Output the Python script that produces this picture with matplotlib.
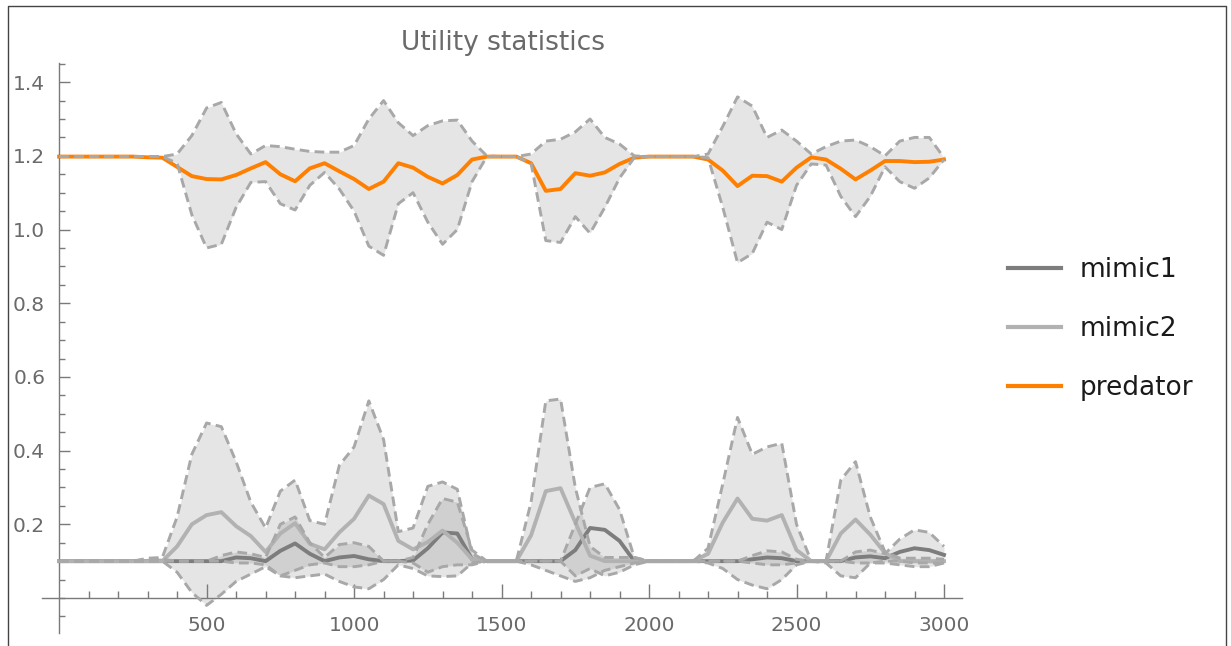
#!/usr/bin/env python3
# -*- coding: utf-8 -*-
"""
Utility statistics: mean and band of each population over time
"""

import numpy as np
import matplotlib.pyplot as plt
from matplotlib.lines import Line2D
from matplotlib.ticker import FixedLocator

plt.rcParams['font.family'] = ['DejaVu Sans']
plt.rcParams['lines.scale_dashes'] = False

# sampling grid (time steps)
steps = np.arange(0, 3001, 50)

predator_mean = [1.198, 1.198, 1.198, 1.198, 1.198, 1.198, 1.196, 1.195,
                 1.17, 1.145, 1.137, 1.136, 1.148, 1.166, 1.183, 1.15, 1.131, 1.166, 1.18, 1.158,
                 1.137, 1.11, 1.13, 1.18, 1.168, 1.143, 1.125, 1.148, 1.19, 1.198,
                 1.198, 1.198, 1.18, 1.105, 1.11, 1.153, 1.146, 1.155, 1.178, 1.195,
                 1.198, 1.198, 1.198, 1.198, 1.19, 1.16, 1.118, 1.146, 1.145, 1.13,
                 1.168, 1.196, 1.19, 1.165, 1.136, 1.16, 1.186, 1.186, 1.183, 1.184, 1.19]
predator_upper = [1.198, 1.198, 1.198, 1.198, 1.198, 1.198, 1.198, 1.198,
                  1.205, 1.255, 1.33, 1.345, 1.26, 1.205, 1.228, 1.225, 1.218, 1.212, 1.21, 1.21,
                  1.228, 1.3, 1.35, 1.29, 1.255, 1.282, 1.295, 1.297, 1.24, 1.2,
                  1.198, 1.198, 1.205, 1.24, 1.245, 1.265, 1.3, 1.25, 1.232, 1.2,
                  1.198, 1.198, 1.198, 1.198, 1.205, 1.28, 1.36, 1.335, 1.25, 1.27,
                  1.24, 1.205, 1.225, 1.24, 1.243, 1.225, 1.2, 1.24, 1.25, 1.25, 1.195]
predator_lower = [1.198, 1.198, 1.198, 1.198, 1.198, 1.198, 1.198, 1.198,
                  1.18, 1.04, 0.95, 0.96, 1.06, 1.128, 1.13, 1.07, 1.053, 1.12, 1.155, 1.11,
                  1.05, 0.955, 0.93, 1.07, 1.1, 1.02, 0.96, 1.0, 1.13, 1.198,
                  1.198, 1.198, 1.18, 0.97, 0.965, 1.035, 0.99, 1.06, 1.14, 1.195,
                  1.198, 1.198, 1.198, 1.198, 1.195, 1.06, 0.91, 0.935, 1.02, 1.0,
                  1.12, 1.178, 1.175, 1.09, 1.035, 1.09, 1.17, 1.13, 1.112, 1.14, 1.19]

mimic2_mean = [0.1, 0.1, 0.1, 0.1, 0.1, 0.1, 0.1, 0.1,
               0.14, 0.2, 0.225, 0.233, 0.195, 0.168, 0.125, 0.175, 0.203, 0.147, 0.132, 0.178,
               0.215, 0.278, 0.255, 0.155, 0.132, 0.152, 0.183, 0.15, 0.105, 0.1,
               0.1, 0.1, 0.17, 0.29, 0.298, 0.205, 0.115, 0.1, 0.1, 0.1,
               0.1, 0.1, 0.1, 0.1, 0.12, 0.205, 0.27, 0.215, 0.21, 0.225,
               0.13, 0.1, 0.1, 0.175, 0.213, 0.172, 0.122, 0.1, 0.1, 0.1, 0.1]
mimic2_upper = [0.1, 0.1, 0.1, 0.1, 0.1, 0.1, 0.108, 0.11,
                0.22, 0.39, 0.475, 0.465, 0.37, 0.26, 0.19, 0.29, 0.32, 0.21, 0.2, 0.36,
                0.41, 0.535, 0.43, 0.18, 0.19, 0.303, 0.315, 0.295, 0.12, 0.1,
                0.1, 0.1, 0.26, 0.535, 0.54, 0.3, 0.14, 0.11, 0.11, 0.11,
                0.1, 0.1, 0.1, 0.1, 0.135, 0.31, 0.49, 0.39, 0.41, 0.42,
                0.2, 0.1, 0.1, 0.32, 0.37, 0.22, 0.125, 0.108, 0.108, 0.108, 0.105]
mimic2_lower = [0.1, 0.1, 0.1, 0.1, 0.1, 0.1, 0.1, 0.1,
                0.07, 0.015, -0.02, 0.01, 0.045, 0.065, 0.085, 0.06, 0.055, 0.06, 0.065, 0.045,
                0.03, 0.025, 0.05, 0.09, 0.08, 0.06, 0.058, 0.06, 0.095, 0.1,
                0.1, 0.1, 0.09, 0.075, 0.06, 0.045, 0.055, 0.075, 0.085, 0.095,
                0.1, 0.1, 0.1, 0.1, 0.095, 0.08, 0.05, 0.035, 0.025, 0.05,
                0.09, 0.1, 0.095, 0.06, 0.055, 0.095, 0.1, 0.1, 0.095, 0.095, 0.095]

mimic1_mean = [0.1, 0.1, 0.1, 0.1, 0.1, 0.1, 0.1, 0.1, 0.1, 0.1, 0.1, 0.1,
               0.11, 0.108, 0.1, 0.128, 0.148, 0.12, 0.1, 0.11,
               0.114, 0.105, 0.1, 0.1, 0.102, 0.135, 0.178, 0.175, 0.105, 0.1,
               0.1, 0.1, 0.1, 0.1, 0.1, 0.13, 0.19, 0.185, 0.155, 0.1,
               0.1, 0.1, 0.1, 0.1, 0.1, 0.1, 0.1, 0.105, 0.11, 0.108,
               0.1, 0.1, 0.1, 0.1, 0.11, 0.113, 0.108, 0.125, 0.135, 0.13, 0.117]
mimic1_upper = [0.1, 0.1, 0.1, 0.1, 0.1, 0.1, 0.105, 0.105, 0.1, 0.1, 0.1, 0.115,
                0.125, 0.12, 0.11, 0.2, 0.22, 0.15, 0.11, 0.145,
                0.15, 0.14, 0.1, 0.1, 0.11, 0.2, 0.27, 0.26, 0.13, 0.1,
                0.1, 0.1, 0.1, 0.1, 0.1, 0.2, 0.3, 0.31, 0.24, 0.11,
                0.1, 0.1, 0.1, 0.1, 0.1, 0.1, 0.1, 0.115, 0.128, 0.125,
                0.105, 0.1, 0.1, 0.1, 0.125, 0.13, 0.12, 0.16, 0.185, 0.178, 0.14]
mimic1_lower = [0.1, 0.1, 0.1, 0.1, 0.1, 0.1, 0.1, 0.1, 0.1, 0.1, 0.1, 0.1,
                0.095, 0.095, 0.09, 0.06, 0.075, 0.09, 0.095, 0.085,
                0.085, 0.09, 0.1, 0.1, 0.095, 0.07, 0.085, 0.09, 0.09, 0.1,
                0.1, 0.1, 0.1, 0.1, 0.1, 0.06, 0.08, 0.06, 0.07, 0.09,
                0.1, 0.1, 0.1, 0.1, 0.1, 0.1, 0.1, 0.095, 0.09, 0.09,
                0.095, 0.1, 0.1, 0.1, 0.095, 0.095, 0.095, 0.09, 0.085, 0.085, 0.095]

series = ['mimic1', 'mimic2', 'predator']
colors = {'mimic1': '#7d7d7d', 'mimic2': '#b2b2b2', 'predator': '#ff8000'}
band_color = '#a8a8a8'
axis_color = '#7a7a7a'
text_color = '#6a6a6a'

data = {
    'mimic1': (mimic1_mean, mimic1_lower, mimic1_upper),
    'mimic2': (mimic2_mean, mimic2_lower, mimic2_upper),
    'predator': (predator_mean, predator_lower, predator_upper),
}

W, H = 1231, 646
fig = plt.figure(figsize=(W / 100, H / 100), dpi=100)
ax = fig.add_axes([42 / W, 13 / H, 920 / W, 570 / H])
ax.set_xlim(-58, 3061)
ax.set_ylim(-0.095, 1.452)

for name in series:
    mean, lo, hi = data[name]
    ax.fill_between(steps, lo, hi, color='0.5', alpha=0.2, linewidth=0, zorder=1)
for name in series:
    mean, lo, hi = data[name]
    ax.plot(steps, mean, color=colors[name], linewidth=2.8, zorder=2,
            solid_joinstyle='round')
    for b in (lo, hi):
        ax.plot(steps, b, color=band_color, linewidth=2.1, zorder=3,
                linestyle=(0, (7, 3.8)))

# axes through the origin, Mathematica style
for side in ['top', 'right']:
    ax.spines[side].set_visible(False)
ax.spines['left'].set_position(('data', 0))
ax.spines['bottom'].set_position(('data', 0))
for side in ['left', 'bottom']:
    ax.spines[side].set_color(axis_color)
    ax.spines[side].set_linewidth(1.0)

ax.xaxis.set_major_locator(FixedLocator([500, 1000, 1500, 2000, 2500, 3000]))
ax.xaxis.set_minor_locator(FixedLocator(np.arange(100, 3001, 100)))
ax.yaxis.set_major_locator(FixedLocator([0.2, 0.4, 0.6, 0.8, 1.0, 1.2, 1.4]))
ax.yaxis.set_minor_locator(FixedLocator(np.arange(-0.05, 1.451, 0.05)))
ax.set_xticklabels(['500', '1000', '1500', '2000', '2500', '3000'])
ax.set_yticklabels(['0.2', '0.4', '0.6', '0.8', '1.0', '1.2', '1.4'])
ax.tick_params(axis='both', which='both', direction='in', color=axis_color,
               labelcolor=text_color, labelsize=14.5, width=1.0)
ax.tick_params(axis='x', which='major', length=10, pad=13)
ax.tick_params(axis='x', which='minor', length=5)
ax.tick_params(axis='y', which='major', length=8, pad=10)
ax.tick_params(axis='y', which='minor', length=4)

fig.text(503 / W, 1 - 43 / H, 'Utility statistics', ha='center', va='center',
         fontsize=19, color=text_color)

handles = [Line2D([], [], color=colors[n], linewidth=3.0) for n in series]
fig.legend(handles, series, loc='center left', bbox_to_anchor=(1008 / W, 1 - 329 / H),
           frameon=False, fontsize=19, handlelength=2.0, handletextpad=0.7,
           labelspacing=1.25, borderaxespad=0, borderpad=0, labelcolor='#1a1a1a')

# outer frame of the screenshot
fig.add_artist(Line2D([8 / W, 8 / W, 1226 / W, 1226 / W],
                      [0, 1 - 6 / H, 1 - 6 / H, 0],
                      transform=fig.transFigure, color='#444444', linewidth=1.0))

plt.savefig('out.png', dpi=100)
